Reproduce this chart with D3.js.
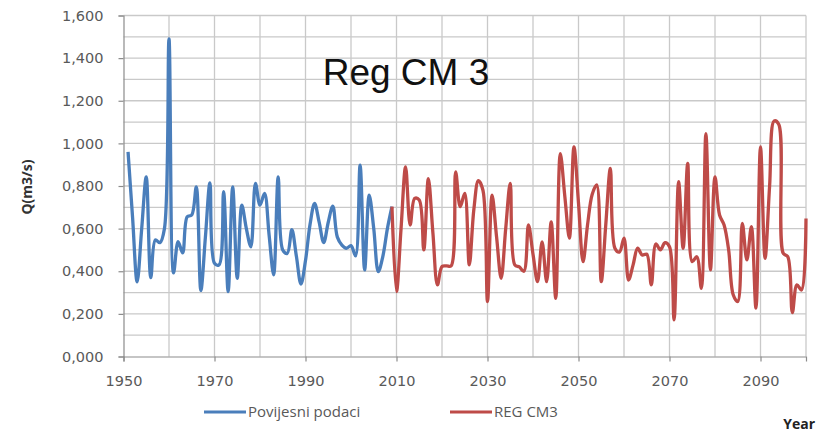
<!DOCTYPE html>
<html>
<head>
<meta charset="utf-8">
<script src="https://cdn.jsdelivr.net/npm/d3@7"></script>
<style>
  body { margin: 0; background: #fff; }
  svg { display: block; }
</style>
</head>
<body>
<div id="chart"></div>
<script>
// historical data 1951-2009 (Q in m3/s)
const histStart = 1951;
const histValues = [
  0.960, 0.650, 0.350, 0.600, 0.843, 0.370, 0.547, 0.534, 0.600, 1.490,
  0.392, 0.539, 0.486, 0.656, 0.664, 0.796, 0.310, 0.560, 0.815, 0.437,
  0.430, 0.773, 0.304, 0.796, 0.367, 0.710, 0.600, 0.515, 0.812, 0.710,
  0.765, 0.570, 0.383, 0.843, 0.500, 0.484, 0.595, 0.470, 0.340, 0.450,
  0.620, 0.718, 0.630, 0.535, 0.630, 0.706, 0.560, 0.523, 0.508, 0.520,
  0.472, 0.898, 0.406, 0.757, 0.600, 0.398, 0.470, 0.600, 0.703
];

// RegCM3 projection 2009-2100
const regStart = 2009;
const regValues = [
  0.703,
  0.305, 0.600, 0.890, 0.617, 0.742, 0.734, 0.500, 0.835, 0.580, 0.336,
  0.422, 0.425, 0.425, 0.866, 0.703, 0.765, 0.430, 0.690, 0.825, 0.780,
  0.258, 0.757, 0.560, 0.367, 0.600, 0.812, 0.430, 0.420, 0.400, 0.617,
  0.480, 0.351, 0.538, 0.351, 0.632, 0.273, 0.952, 0.750, 0.555, 0.984,
  0.720, 0.445, 0.620, 0.760, 0.805, 0.351, 0.620, 0.882, 0.508, 0.490,
  0.555, 0.359, 0.430, 0.508, 0.476, 0.480, 0.336, 0.528, 0.500, 0.534,
  0.515, 0.172, 0.820, 0.508, 0.906, 0.445, 0.468, 0.320, 1.046, 0.406,
  0.843, 0.664, 0.617, 0.500, 0.290, 0.258, 0.625, 0.453, 0.609, 0.227,
  0.984, 0.461, 0.800, 1.105, 1.090, 0.484, 0.468, 0.206, 0.336, 0.312,
  0.648
];

const xTicks = [1950, 1970, 1990, 2010, 2030, 2050, 2070, 2090];
const yTicks = [0, 0.2, 0.4, 0.6, 0.8, 1.0, 1.2, 1.4, 1.6];
const seriesNames = ["Povijesni podaci", "REG CM3"];
const seriesColors = ["#4a7ebb", "#be4b48"];

const width = 816, height = 432;

const svg = d3.select("#chart").append("svg")
    .attr("width", width)
    .attr("height", height);

const x = d3.scaleLinear().domain([1950, 2100]).range([123.5, 806]);
const y = d3.scaleLinear().domain([0, 1.6]).range([356.5, 15.5]);

const hist = histValues.map((v, i) => ({ year: histStart + i, value: v }));
const reg = regValues.map((v, i) => ({ year: regStart + i, value: v }));

// grid
const grid = svg.append("g").attr("stroke", "#c9c9c9").attr("stroke-width", 1.3);
grid.selectAll("line.h")
    .data(d3.range(0.1, 1.65, 0.1))
    .enter().append("line")
    .attr("x1", x(1950)).attr("x2", x(2100))
    .attr("y1", d => y(d)).attr("y2", d => y(d));
grid.selectAll("line.v")
    .data(d3.range(1960, 2101, 10))
    .enter().append("line")
    .attr("x1", d => x(d)).attr("x2", d => x(d))
    .attr("y1", y(0)).attr("y2", y(1.6));

// axes
const fmt = d => d.toFixed(3).replace(".", ",");

const yAxis = svg.append("g")
    .attr("transform", `translate(${x(1950)},0)`)
    .call(d3.axisLeft(y).tickValues(yTicks).tickFormat(fmt).tickSize(5).tickPadding(15));

const xAxis = svg.append("g")
    .attr("transform", `translate(0,${y(0)})`)
    .call(d3.axisBottom(x).tickValues(xTicks).tickFormat(d3.format("d")).tickSize(5).tickPadding(14));

[yAxis, xAxis].forEach(a => {
  a.select(".domain").attr("stroke", "#8c8c8c").attr("stroke-width", 1.2);
  a.selectAll(".tick line").attr("stroke", "#8c8c8c").attr("stroke-width", 1.2);
  a.selectAll(".tick text")
      .attr("fill", "#595959")
      .style("font-family", "'DejaVu Sans', sans-serif")
      .style("font-size", "14.5px");
});

// lines
const line = d3.line()
    .x(d => x(d.year))
    .y(d => y(d.value))
    .curve(d3.curveCatmullRom.alpha(0.5));

svg.append("path")
    .datum(hist)
    .attr("fill", "none")
    .attr("stroke", seriesColors[0])
    .attr("stroke-width", 3.3)
    .attr("stroke-linejoin", "round")
    .attr("d", line);

svg.append("path")
    .datum(reg)
    .attr("fill", "none")
    .attr("stroke", seriesColors[1])
    .attr("stroke-width", 3.3)
    .attr("stroke-linejoin", "round")
    .attr("d", line);

// title inside plot
svg.append("text")
    .attr("x", 406)
    .attr("y", 85)
    .attr("text-anchor", "middle")
    .style("font-family", "'Liberation Sans', Arial, sans-serif")
    .style("font-size", "37px")
    .attr("fill", "#111")
    .text("Reg CM 3");

// y axis title
svg.append("text")
    .attr("transform", "translate(32,187) rotate(-90)")
    .attr("text-anchor", "middle")
    .style("font-family", "'Open Sans', sans-serif")
    .style("font-size", "14px")
    .style("font-weight", "bold")
    .attr("fill", "#333")
    .text("Q(m3/s)");

// x axis title
svg.append("text")
    .attr("x", 815)
    .attr("y", 429)
    .attr("text-anchor", "end")
    .style("font-family", "'Open Sans', sans-serif")
    .style("font-size", "14px")
    .style("font-weight", "bold")
    .attr("fill", "#222")
    .text("Year");

// legend
const legendX = [204, 450];
const legend = svg.append("g");
seriesNames.forEach((name, i) => {
  legend.append("line")
      .attr("x1", legendX[i]).attr("x2", legendX[i] + 42)
      .attr("y1", 412).attr("y2", 412)
      .attr("stroke", seriesColors[i])
      .attr("stroke-width", 3);
  legend.append("text")
      .attr("x", legendX[i] + 44)
      .attr("y", 417)
      .style("font-family", "'Open Sans', sans-serif")
      .style("font-size", "15px")
      .attr("fill", "#595959")
      .text(name);
});
</script>
</body>
</html>
